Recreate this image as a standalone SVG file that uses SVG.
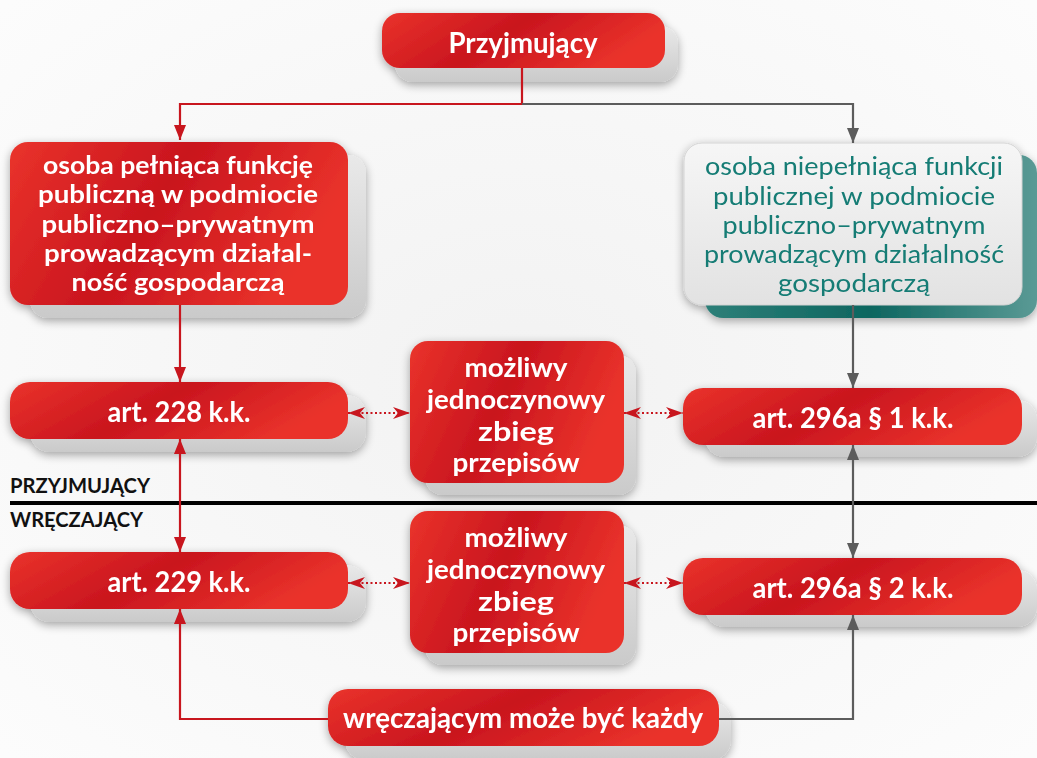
<svg xmlns="http://www.w3.org/2000/svg" width="1037" height="758" viewBox="0 0 1037 758">
<defs>
<linearGradient id="red" x1="0" y1="0" x2="1" y2="0.3">
<stop offset="0" stop-color="#ea332b"/>
<stop offset="0.5" stop-color="#c9151e"/>
<stop offset="1" stop-color="#ea332b"/>
</linearGradient>
<linearGradient id="grey" x1="0" y1="0" x2="0" y2="1">
<stop offset="0" stop-color="#e9e9e9"/>
<stop offset="1" stop-color="#cacaca"/>
</linearGradient>
<linearGradient id="teal" x1="0" y1="0" x2="1" y2="0">
<stop offset="0" stop-color="#2d7f78"/>
<stop offset="0.5" stop-color="#0d6660"/>
<stop offset="1" stop-color="#5a9a95"/>
</linearGradient>
<linearGradient id="light" x1="0" y1="0" x2="0" y2="1">
<stop offset="0" stop-color="#f6f6f6"/>
<stop offset="1" stop-color="#e2e2e2"/>
</linearGradient>
<radialGradient id="bg" cx="0.5" cy="0.5" r="0.7">
<stop offset="0" stop-color="#f2f2f2"/>
<stop offset="1" stop-color="#fcfcfc"/>
</radialGradient>
<filter id="sh" x="-10%" y="-20%" width="120%" height="150%">
<feGaussianBlur in="SourceAlpha" stdDeviation="5"/>
<feOffset dx="0" dy="3" result="b"/>
<feComponentTransfer><feFuncA type="linear" slope="0.35"/></feComponentTransfer>
<feMerge><feMergeNode/><feMergeNode in="SourceGraphic"/></feMerge>
</filter>
<marker id="ar" viewBox="0 0 15 12" refX="15" refY="6" markerWidth="15" markerHeight="12" markerUnits="userSpaceOnUse" orient="auto-start-reverse">
<path d="M0,0 L15,6 L0,12 z" fill="#c8161e"/>
</marker>
<marker id="ag" viewBox="0 0 15 12" refX="15" refY="6" markerWidth="15" markerHeight="12" markerUnits="userSpaceOnUse" orient="auto-start-reverse">
<path d="M0,0 L15,6 L0,12 z" fill="#5c5c5c"/>
</marker>
<marker id="ad" viewBox="0 0 17 12" refX="17" refY="6" markerWidth="17" markerHeight="12" markerUnits="userSpaceOnUse" orient="auto-start-reverse">
<path d="M0,0 L17,6 L0,12 L5,6 z" fill="#c8161e"/>
</marker>
</defs>
<style>
.t{font-family:Lato,"Open Sans","DejaVu Sans",sans-serif;font-weight:700;fill:#ffffff;text-anchor:middle}
.tt{font-family:Lato,"Open Sans","DejaVu Sans",sans-serif;font-weight:400;fill:#137c74;text-anchor:middle;font-size:25px}
.lab{font-family:Lato,"Open Sans","DejaVu Sans",sans-serif;font-weight:700;fill:#111111;font-size:20px}
.box{fill:url(#red)}
.sb{fill:url(#grey)}
.lr{fill:none;stroke:#c8161e;stroke-width:2.2}
.lg{fill:none;stroke:#5c5c5c;stroke-width:2.2}
.dt{fill:none;stroke:#c8161e;stroke-width:2.2;stroke-dasharray:2 2.5}
</style>
<rect width="1037" height="758" fill="url(#bg)"/>

<g id="divider">
<line x1="10" y1="503" x2="1037" y2="503" stroke="#000" stroke-width="4"/>
<text class="lab" x="10" y="493" textLength="140" lengthAdjust="spacingAndGlyphs">PRZYJMUJĄCY</text>
<text class="lab" x="10" y="527" textLength="133" lengthAdjust="spacingAndGlyphs">WRĘCZAJĄCY</text>
</g>

<g id="przyjmujacy" filter="url(#sh)">
<rect class="sb" x="395" y="26" width="283" height="56" rx="18"/>
<rect class="box" x="382" y="13" width="283" height="55" rx="18"/>
<text class="t" x="523" y="53" font-size="29" textLength="149" lengthAdjust="spacingAndGlyphs">Przyjmujący</text>
</g>

<g id="osoba-pelniaca" filter="url(#sh)">
<rect class="sb" x="30" y="155" width="336" height="163" rx="18"/>
<rect class="box" x="10" y="142" width="338" height="163" rx="18"/>
<g font-size="25">
<text class="t" x="178" y="174" textLength="270" lengthAdjust="spacingAndGlyphs">osoba pełniąca funkcję</text>
<text class="t" x="178" y="203" textLength="280" lengthAdjust="spacingAndGlyphs">publiczną w podmiocie</text>
<text class="t" x="178" y="233" textLength="273" lengthAdjust="spacingAndGlyphs">publiczno–prywatnym</text>
<text class="t" x="178" y="262" textLength="268" lengthAdjust="spacingAndGlyphs">prowadzącym działal-</text>
<text class="t" x="178" y="291" textLength="213" lengthAdjust="spacingAndGlyphs">ność gospodarczą</text>
</g>
</g>

<g id="osoba-niepelniaca" filter="url(#sh)">
<rect x="705" y="155" width="332" height="163" rx="18" fill="url(#teal)"/>
<rect x="684" y="143" width="338" height="162" rx="18" fill="url(#light)" stroke="#d4d4d4" stroke-width="1"/>
<text class="tt" x="854" y="175" textLength="298" lengthAdjust="spacingAndGlyphs">osoba niepełniąca funkcji</text>
<text class="tt" x="854" y="205" textLength="282" lengthAdjust="spacingAndGlyphs">publicznej w podmiocie</text>
<text class="tt" x="854" y="234" textLength="263" lengthAdjust="spacingAndGlyphs">publiczno–prywatnym</text>
<text class="tt" x="854" y="263" textLength="300" lengthAdjust="spacingAndGlyphs">prowadzącym działalność</text>
<text class="tt" x="854" y="292" textLength="152" lengthAdjust="spacingAndGlyphs">gospodarczą</text>
</g>

<g id="art228" filter="url(#sh)">
<rect class="sb" x="30" y="395" width="336" height="57" rx="20"/>
<rect class="box" x="10" y="382" width="338" height="57" rx="20"/>
<text class="t" x="179" y="422" font-size="29" textLength="143" lengthAdjust="spacingAndGlyphs">art. 228 k.k.</text>
</g>

<g id="zbieg1" filter="url(#sh)">
<rect class="sb" x="425" y="355" width="211" height="140" rx="18"/>
<rect class="box" x="410" y="341" width="214" height="142" rx="18"/>
<g font-size="27">
<text class="t" x="516" y="377" textLength="103" lengthAdjust="spacingAndGlyphs">możliwy</text>
<text class="t" x="516" y="409" textLength="178" lengthAdjust="spacingAndGlyphs">jednoczynowy</text>
<text class="t" x="516" y="441" textLength="76" lengthAdjust="spacingAndGlyphs">zbieg</text>
<text class="t" x="516" y="472" textLength="127" lengthAdjust="spacingAndGlyphs">przepisów</text>
</g>
</g>

<g id="art296a1" filter="url(#sh)">
<rect class="sb" x="705" y="400" width="332" height="57" rx="20"/>
<rect class="box" x="683" y="388" width="339" height="57" rx="20"/>
<text class="t" x="853" y="428" font-size="29" textLength="201" lengthAdjust="spacingAndGlyphs">art. 296a § 1 k.k.</text>
</g>

<g id="art229" filter="url(#sh)">
<rect class="sb" x="30" y="565" width="336" height="57" rx="20"/>
<rect class="box" x="10" y="552" width="338" height="57" rx="20"/>
<text class="t" x="179" y="592" font-size="29" textLength="143" lengthAdjust="spacingAndGlyphs">art. 229 k.k.</text>
</g>

<g id="zbieg2" filter="url(#sh)">
<rect class="sb" x="425" y="525" width="211" height="140" rx="18"/>
<rect class="box" x="410" y="511" width="214" height="142" rx="18"/>
<g font-size="27">
<text class="t" x="516" y="547" textLength="103" lengthAdjust="spacingAndGlyphs">możliwy</text>
<text class="t" x="516" y="579" textLength="178" lengthAdjust="spacingAndGlyphs">jednoczynowy</text>
<text class="t" x="516" y="611" textLength="76" lengthAdjust="spacingAndGlyphs">zbieg</text>
<text class="t" x="516" y="642" textLength="127" lengthAdjust="spacingAndGlyphs">przepisów</text>
</g>
</g>

<g id="art296a2" filter="url(#sh)">
<rect class="sb" x="705" y="570" width="332" height="57" rx="20"/>
<rect class="box" x="683" y="558" width="339" height="57" rx="20"/>
<text class="t" x="853" y="598" font-size="29" textLength="201" lengthAdjust="spacingAndGlyphs">art. 296a § 2 k.k.</text>
</g>

<g id="wreczajacy" filter="url(#sh)">
<rect class="sb" x="345" y="702" width="386" height="58" rx="20"/>
<rect class="box" x="328" y="689" width="391" height="57" rx="20"/>
<text class="t" x="523" y="728" font-size="29" textLength="360" lengthAdjust="spacingAndGlyphs">wręczającym może być każdy</text>
</g>

<g id="connectors">
<path class="lr" d="M522,68 V104 H180 V140" marker-end="url(#ar)"/>
<path class="lg" d="M522,104 H853 V143" marker-end="url(#ag)"/>
<path class="lr" d="M180,305 V382" marker-end="url(#ar)"/>
<path class="lg" d="M853,305 V388" marker-end="url(#ag)"/>
<path class="lr" d="M180,439 V552" marker-start="url(#ar)" marker-end="url(#ar)"/>
<path class="lg" d="M853,445 V558" marker-start="url(#ag)" marker-end="url(#ag)"/>
<path class="lr" d="M328,719 H180 V609" marker-end="url(#ar)"/>
<path class="lg" d="M719,719 H853 V615" marker-end="url(#ag)"/>
<path class="dt" d="M348,413 H410" marker-start="url(#ad)" marker-end="url(#ad)"/>
<path class="dt" d="M624,413 H683" marker-start="url(#ad)" marker-end="url(#ad)"/>
<path class="dt" d="M348,583 H410" marker-start="url(#ad)" marker-end="url(#ad)"/>
<path class="dt" d="M624,583 H683" marker-start="url(#ad)" marker-end="url(#ad)"/>
</g>
</svg>
